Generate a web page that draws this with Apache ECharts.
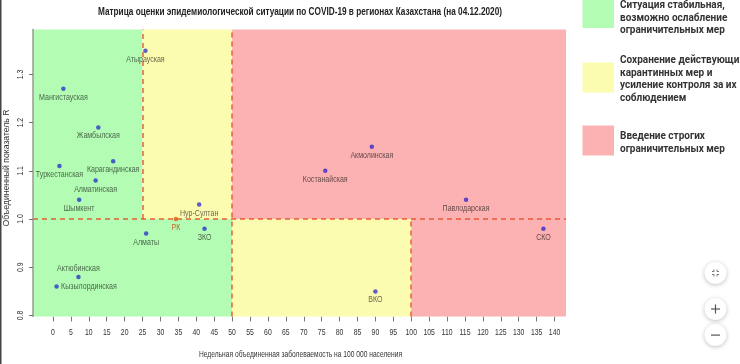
<!DOCTYPE html>
<html><head><meta charset="utf-8">
<script src="https://cdn.jsdelivr.net/npm/echarts@6/dist/echarts.min.js"></script>
<style>html,body{margin:0;padding:0;background:#fff;}#c{width:740px;height:364px;}</style>
</head><body><div id="c"></div>
<script>
// ---- data ----
const regions = ['Атырауская','Мангистауская','Жамбылская','Карагандинская','Туркестанская','Алматинская','Шымкент','Нур-Султан','ЗКО','Алматы','Актюбинская','Кызылординская','Акмолинская','Костанайская','ВКО','Павлодарская','СКО'];
const incidence = [25.8, 2.9, 12.65, 16.8, 1.8, 11.9, 7.3, 40.8, 42.3, 26.0, 7.1, 1.0, 89.0, 76.0, 90.0, 115.3, 136.9];
const rValues   = [1.349, 1.27, 1.19, 1.12, 1.11, 1.08, 1.04, 1.03, 0.98, 0.97, 0.88, 0.86, 1.15, 1.10, 0.85, 1.04, 0.98];
const kzName = 'РК';
const kzIncidence = 34.3;
const kzR = 1.0;
const xTicks = [0,5,10,15,20,25,30,35,40,45,50,55,60,65,70,75,80,85,90,95,100,105,110,115,120,125,130,135,140];
const yTicks = [0.8, 0.9, 1.0, 1.1, 1.2, 1.3];
const rThreshold = 1.0;
const highRThresholds = [25, 50];   // R > 1: green < 25, yellow 25-50, red > 50
const lowRThresholds = [50, 100];   // R < 1: green < 50, yellow 50-100, red > 100
const zoneTexts = [
  ['Ситуация стабильная,', 'возможно ослабление', 'ограничительных мер'],
  ['Сохранение действующих', 'карантинных мер и', 'усиление контроля за их', 'соблюдением'],
  ['Введение строгих', 'ограничительных мер']
];
const titleText = 'Матрица оценки эпидемиологической ситуации по COVID-19 в регионах Казахстана (на 04.12.2020)';
const xName = 'Недельная объединенная заболеваемость на 100 000 населения';
const yName = 'Объединенный показатель R';

// ---- layout / style ----
const X_MIN = -5.58, X_MAX = 143.2, Y_MIN = 0.798, Y_MAX = 1.393;
const GREEN = '#b3fcb3', YELLOW = '#fcfcb1', RED = '#fcb2b2';
const zoneColors = [GREEN, YELLOW, RED];
const SANS = '"Liberation Sans", Arial, sans-serif';
const NARROW_X = 0.82; // emulate a narrow face
const LBL_FONT = '8.6px ' + SANS;
const TICK_FONT = '8.4px ' + SANS;
const labelPlace = {'Актюбинская': 'top', 'Кызылординская': 'right'};

const mctx = document.createElement('canvas').getContext('2d');
function fitScale(font, text, target) { mctx.font = font; return target / mctx.measureText(text).width; }

const highEdges = [X_MIN, highRThresholds[0], highRThresholds[1], X_MAX];
const lowEdges = [X_MIN, lowRThresholds[0], lowRThresholds[1], X_MAX];
const areas = [];
for (let i = 0; i < 3; i++) {
  areas.push([{xAxis: highEdges[i], yAxis: rThreshold, itemStyle: {color: zoneColors[i]}}, {xAxis: highEdges[i+1], yAxis: Y_MAX}]);
  areas.push([{xAxis: lowEdges[i], yAxis: Y_MIN, itemStyle: {color: zoneColors[i]}}, {xAxis: lowEdges[i+1], yAxis: rThreshold}]);
}
const dash = {color: 'rgba(232,70,30,0.85)', type: [5, 4], width: 1.5};
const lines = [
  [{coord: [X_MIN, rThreshold]}, {coord: [X_MAX, rThreshold]}],
  [{coord: [highRThresholds[0], rThreshold]}, {coord: [highRThresholds[0], Y_MAX]}],
  [{coord: [highRThresholds[1], Y_MIN]}, {coord: [highRThresholds[1], Y_MAX]}],
  [{coord: [lowRThresholds[1], Y_MIN]}, {coord: [lowRThresholds[1], rThreshold]}]
];

const pointData = regions.map((n, i) => [incidence[i], rValues[i], i]);

function labelItem(params, api) {
  const i = api.value(2);
  const name = i < 0 ? kzName : regions[i];
  const p = api.coord([api.value(0), api.value(1)]);
  const pos = labelPlace[name] || 'bottom';
  let x = p[0], y = p[1] + 8.7, align = 'center';
  if (pos === 'top') y = p[1] - 8.7;
  if (pos === 'right') { x = p[0] + 4.5; y = p[1] + 0.5; align = 'left'; }
  return {type: 'text', x: x, y: y, scaleX: NARROW_X, silent: true,
    style: {text: name, font: LBL_FONT, fill: i < 0 ? 'rgba(205,85,25,0.9)' : 'rgba(0,0,0,0.62)', textAlign: align, textVerticalAlign: 'middle'}};
}

const graphics = [];
// title
const TITLE_FONT = 'bold 10.5px ' + SANS;
graphics.push({type: 'text', x: 300, y: 12, scaleX: fitScale(TITLE_FONT, titleText, 404),
  style: {text: titleText, font: TITLE_FONT, fill: '#222', textAlign: 'center', textVerticalAlign: 'middle'}});
// legend boxes + texts
const boxTops = [-2, 62.5, 125.5];
const textTops = [0.5, 55.5, 131.5];
for (let i = 0; i < 3; i++) {
  graphics.push({type: 'rect', shape: {x: 582.5, y: boxTops[i], width: 31.5, height: 30}, style: {fill: zoneColors[i]}});
  zoneTexts[i].forEach((t, j) => {
    graphics.push({type: 'text', x: 620, y: textTops[i] + j * 12.6, style: {text: t, font: 'bold 10px Roboto, sans-serif', fill: '#333', textVerticalAlign: 'top'}});
  });
}
// axis names
const YN_FONT = '9.4px ' + SANS;
graphics.push({type: 'text', x: 6, y: 168, rotation: Math.PI / 2, scaleX: fitScale(YN_FONT, yName, 117),
  style: {text: yName, font: YN_FONT, fill: '#333', textAlign: 'center', textVerticalAlign: 'middle'}});
const XN_FONT = '8.6px ' + SANS;
graphics.push({type: 'text', x: 300.5, y: 355, scaleX: fitScale(XN_FONT, xName, 203),
  style: {text: xName, font: XN_FONT, fill: '#333', textAlign: 'center', textVerticalAlign: 'middle'}});
// left border of screenshot
graphics.push({type: 'rect', shape: {x: 0, y: 0, width: 1.5, height: 364}, style: {fill: '#444'}});
// zoom buttons
const btnY = [273, 309, 335];
btnY.forEach(cy => {
  graphics.push({type: 'circle', shape: {cx: 715.5, cy: cy, r: 11}, style: {fill: '#fff', shadowBlur: 4, shadowColor: 'rgba(0,0,0,0.25)', shadowOffsetY: 1}});
});
graphics.push({type: 'rect', shape: {x: 711, y: 308.4, width: 9, height: 1.2}, style: {fill: '#555'}});
graphics.push({type: 'rect', shape: {x: 714.9, y: 304.5, width: 1.2, height: 9}, style: {fill: '#555'}});
graphics.push({type: 'rect', shape: {x: 711, y: 334.5, width: 9, height: 1.2}, style: {fill: '#555'}});
[[-1,-1],[1,-1],[-1,1],[1,1]].forEach(([sx, sy]) => {
  const cx = 715.5 + sx * 1.5, cy = 273 + sy * 1.5;
  graphics.push({type: 'polyline', shape: {points: [[cx, cy + sy * 2], [cx, cy], [cx + sx * 2, cy]]}, style: {stroke: '#777', lineWidth: 1, fill: null}});
});

const chart = echarts.init(document.getElementById('c'), null, {renderer: 'canvas'});
chart.setOption({
  animation: false,
  backgroundColor: '#fff',
  grid: {left: 33, right: 174, top: 29.5, bottom: 47.5},
  xAxis: {type: 'value', min: X_MIN, max: X_MAX, splitLine: {show: false},
    axisLine: {show: false},
    axisTick: {show: true, customValues: xTicks, length: 5, lineStyle: {color: '#777'}},
    axisLabel: {show: false}},
  yAxis: {type: 'value', min: Y_MIN, max: Y_MAX, z: 5, splitLine: {show: false},
    axisLine: {show: true, onZero: false, lineStyle: {color: '#999', width: 1.5}},
    axisTick: {show: true, customValues: yTicks, length: 4, lineStyle: {color: '#777'}},
    axisLabel: {show: false}},
  graphic: graphics,
  series: [
    {type: 'scatter', name: 'zones', data: [], silent: true,
      markArea: {silent: true, data: areas},
      markLine: {silent: true, symbol: 'none', label: {show: false}, lineStyle: dash, data: lines}},
    {type: 'scatter', name: 'regions', z: 4, symbolSize: 4.5, data: pointData,
      itemStyle: {color: 'rgba(20,20,205,0.86)'}},
    {type: 'scatter', name: kzName, z: 4, symbolSize: 4.5, data: [[kzIncidence, kzR, -1]],
      itemStyle: {color: '#e2560f'}},
    {type: 'custom', name: 'labels', z: 5, silent: true, clip: false, renderItem: labelItem,
      data: pointData.concat([[kzIncidence, kzR, -1]])},
    {type: 'custom', name: 'xTickLabels', silent: true, clip: false, data: xTicks.map(v => [v, Y_MIN]),
      renderItem: (params, api) => {
        const p = api.coord([api.value(0), api.value(1)]);
        return {type: 'text', x: p[0], y: p[1] + 16.5, scaleX: NARROW_X,
          style: {text: String(api.value(0)), font: TICK_FONT, fill: '#333', textAlign: 'center', textVerticalAlign: 'middle'}};
      }},
    {type: 'custom', name: 'yTickLabels', silent: true, clip: false, data: yTicks.map(v => [X_MIN, v]),
      renderItem: (params, api) => {
        const p = api.coord([api.value(0), api.value(1)]);
        return {type: 'text', x: p[0] - 12, y: p[1], rotation: Math.PI / 2, scaleX: NARROW_X,
          style: {text: api.value(1).toFixed(1), font: TICK_FONT, fill: '#333', textAlign: 'center', textVerticalAlign: 'middle'}};
      }}
  ]
});
</script></body></html>
